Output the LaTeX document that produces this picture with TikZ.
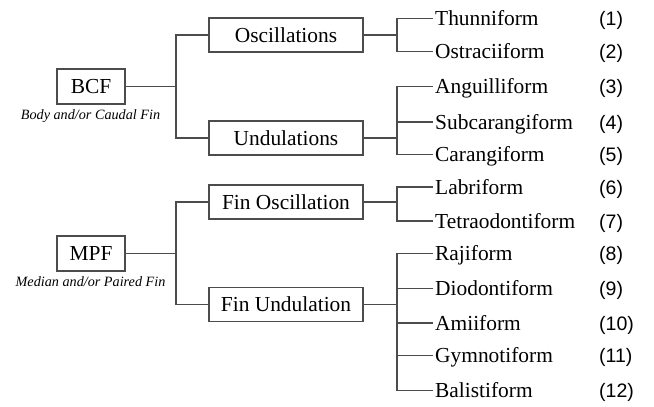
\documentclass[tikz,border=0pt]{standalone}
\usepackage{fontspec}
\setmainfont{Liberation Serif}
\newfontfamily\numfont{Liberation Sans}
\begin{document}
\begin{tikzpicture}[x=1pt,y=-1pt,
  lc/.style={draw=black!70, line width=1.45pt},
  rootbox/.style={lc, fill=white, minimum width=68pt, minimum height=35pt, inner sep=0pt,
    font=\fontsize{21.4pt}{24pt}\selectfont, text height=14.2pt, text depth=0pt},
  midbox/.style={lc, fill=white, minimum width=154pt, minimum height=34pt, inner sep=0pt,
    font=\fontsize{21.4pt}{24pt}\selectfont, text height=14.2pt, text depth=0pt},
  leaf/.style={anchor=west, inner xsep=2pt, inner ysep=0pt,
    font=\fontsize{21.4pt}{24pt}\selectfont, text height=14.2pt, text depth=0pt},
  num/.style={anchor=west, inner xsep=0pt, inner ysep=0pt,
    font=\numfont\fontsize{19.5pt}{22pt}\selectfont, text height=14pt, text depth=0pt},
  captxt/.style={anchor=base, inner sep=0pt, font=\fontsize{14.2pt}{16pt}\selectfont\itshape}
]
\useasboundingbox (0,0) rectangle (654,407);

% roots
\node[rootbox] (bcf) at (91,86.5) {BCF};
\node[captxt] (bcfcap) at (90.5,119) {Body and/or Caudal Fin};
\node[rootbox] (mpf) at (91,253.5) {MPF};
\node[captxt] (mpfcap) at (90.5,286) {Median and/or Paired Fin};

% middle boxes
\node[midbox] (osc) at (286,35) {Oscillations};
\node[midbox] (und) at (286,138) {Undulations};
\node[midbox] (fosc) at (286,202) {Fin Oscillation};
\node[midbox] (fund) at (286,304.5) {Fin Undulation};

% leaves
\node[leaf] (l1) at (433,18.3) {Thunniform};
\node[leaf] (l2) at (433,51.7) {Ostraciiform};
\node[leaf] (l3) at (433,86.7) {Anguilliform};
\node[leaf] (l4) at (433,122) {Subcarangiform};
\node[leaf] (l5) at (433,154.5) {Carangiform};
\node[leaf] (l6) at (433,187) {Labriform};
\node[leaf] (l7) at (433,221) {Tetraodontiform};
\node[leaf] (l8) at (433,253.5) {Rajiform};
\node[leaf] (l9) at (433,288.3) {Diodontiform};
\node[leaf] (l10) at (433,323) {Amiiform};
\node[leaf] (l11) at (433,355.5) {Gymnotiform};
\node[leaf] (l12) at (433,390.7) {Balistiform};

% numbers
\node[num] (n1) at (599,18.3) {(1)};
\node[num] (n2) at (599,51.7) {(2)};
\node[num] (n3) at (599,86.7) {(3)};
\node[num] (n4) at (599,122) {(4)};
\node[num] (n5) at (599,154.5) {(5)};
\node[num] (n6) at (599,187) {(6)};
\node[num] (n7) at (599,221) {(7)};
\node[num] (n8) at (599,253.5) {(8)};
\node[num] (n9) at (599,288.3) {(9)};
\node[num] (n10) at (599,323) {(10)};
\node[num] (n11) at (599,355.5) {(11)};
\node[num] (n12) at (599,390.7) {(12)};

% junctions
\coordinate (jb) at (176,86.5);
\coordinate (jm) at (176,253.5);
\coordinate (jo) at (397,35);
\coordinate (ju) at (397,138);
\coordinate (jfo) at (397,202);
\coordinate (jfu) at (397,304.5);

% connectors level 1
\draw[lc] (bcf.east) -- (jb);
\draw[lc] (osc.west) -| (jb) |- (und.west);
\draw[lc] (mpf.east) -- (jm);
\draw[lc] (fosc.west) -| (jm) |- (fund.west);

% connectors level 2
\draw[lc] (osc.east) -- (jo);
\draw[lc] (l1.west) -| (jo) |- (l2.west);
\draw[lc] (und.east) -- (ju);
\draw[lc] (l3.west) -| (ju) |- (l5.west);
\draw[lc] (l4.west) -- (l4.west -| ju);
\draw[lc] (fosc.east) -- (jfo);
\draw[lc] (l6.west) -| (jfo) |- (l7.west);
\draw[lc] (fund.east) -- (jfu);
\draw[lc] (l8.west) -| (jfu) |- (l12.west);
\draw[lc] (l9.west) -- (l9.west -| jfu);
\draw[lc] (l10.west) -- (l10.west -| jfu);
\draw[lc] (l11.west) -- (l11.west -| jfu);
\end{tikzpicture}
\end{document}
